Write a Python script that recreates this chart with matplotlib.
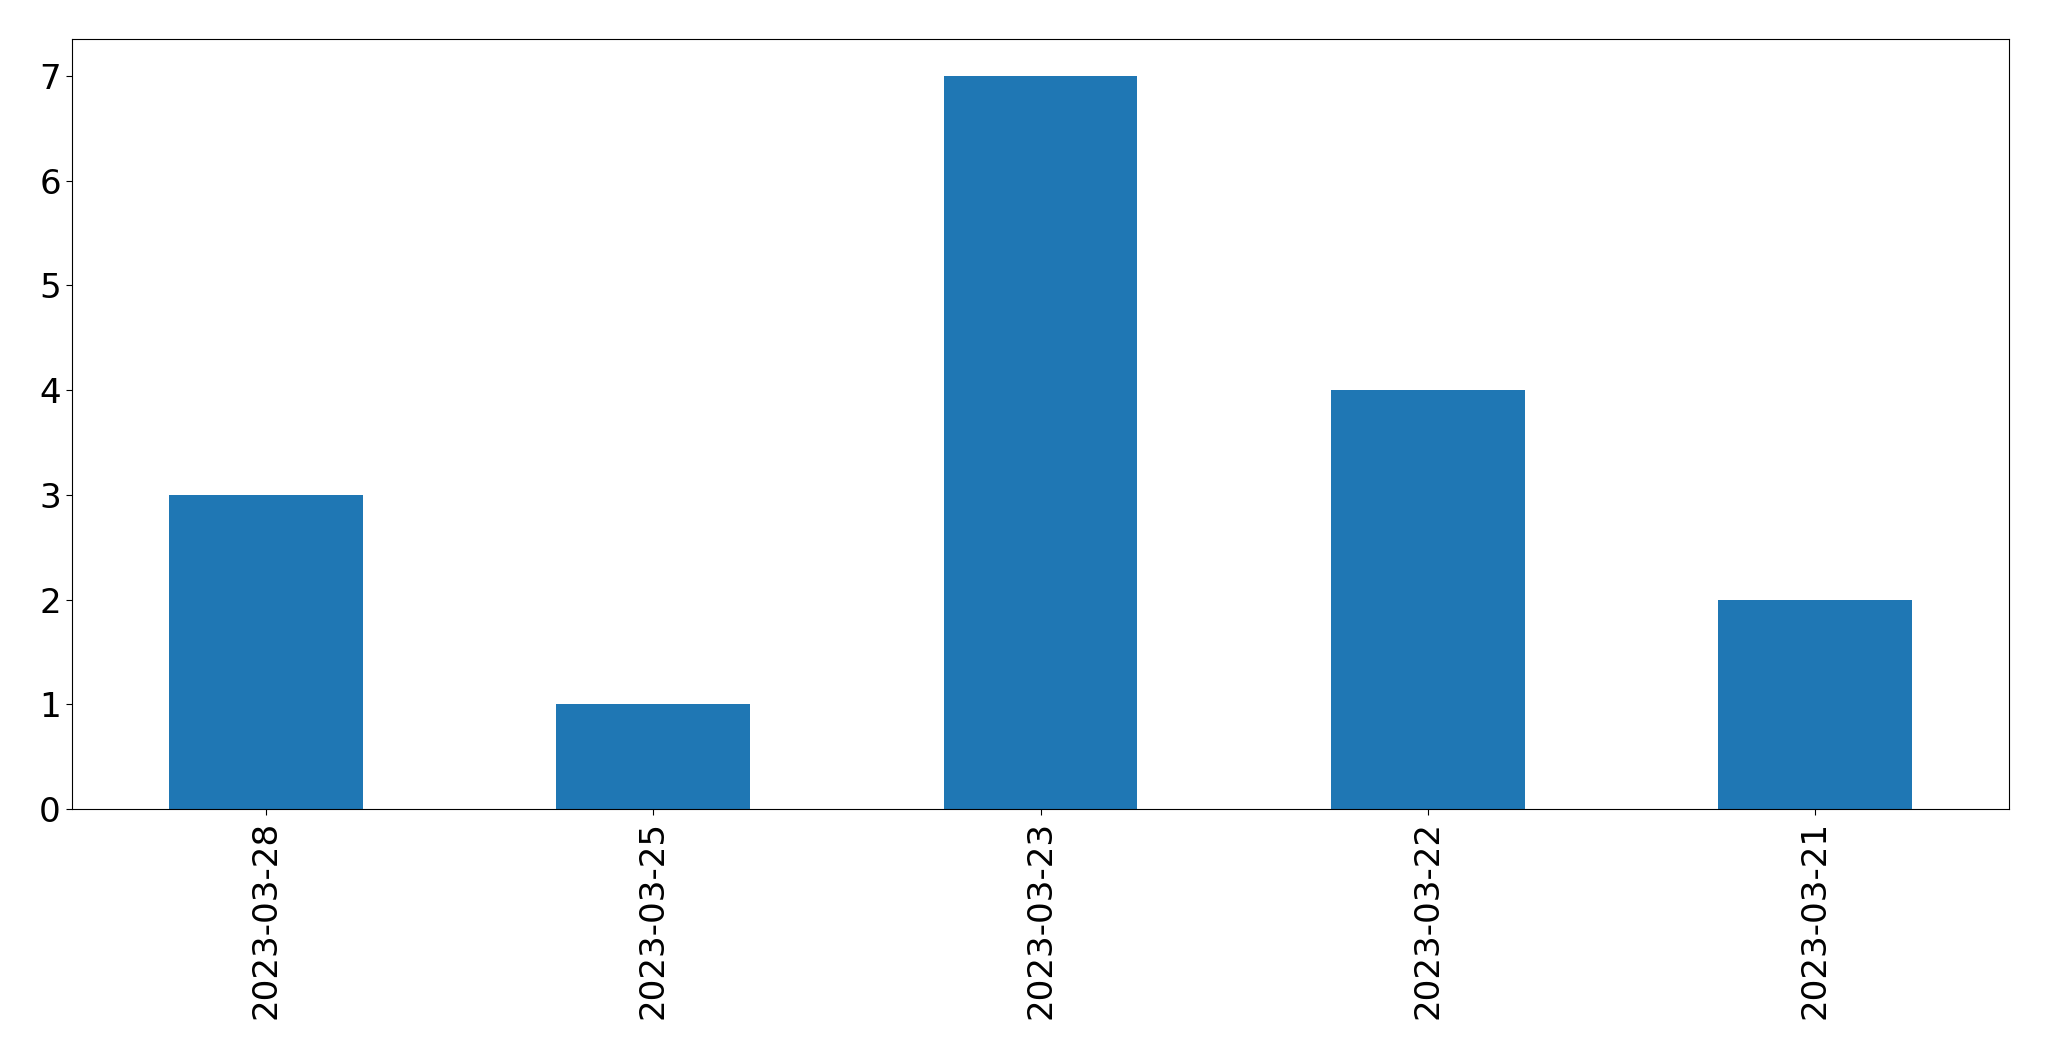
import matplotlib
matplotlib.use("Agg")
import matplotlib.pyplot as plt

dates = ["2023-03-28", "2023-03-25", "2023-03-23", "2023-03-22", "2023-03-21"]
counts = [3, 1, 7, 4, 2]

fig = plt.figure(figsize=(20.49, 10.61), dpi=100)
ax = fig.add_axes([72.3 / 2049, 1 - 809 / 1061, (2009 - 72.3) / 2049, (809 - 39.3) / 1061])
x = list(range(len(dates)))
ax.bar(x, counts, width=0.5, color="#1f77b4")
ax.set_xlim(-0.5, len(dates) - 0.5)
ax.set_ylim(0, max(counts) * 1.05)
ax.set_xticks(x)
ax.set_xticklabels(dates, rotation=90)
ax.tick_params(labelsize=24.6, length=4.1, pad=4.2)
fig.savefig("out.png", dpi=100)
